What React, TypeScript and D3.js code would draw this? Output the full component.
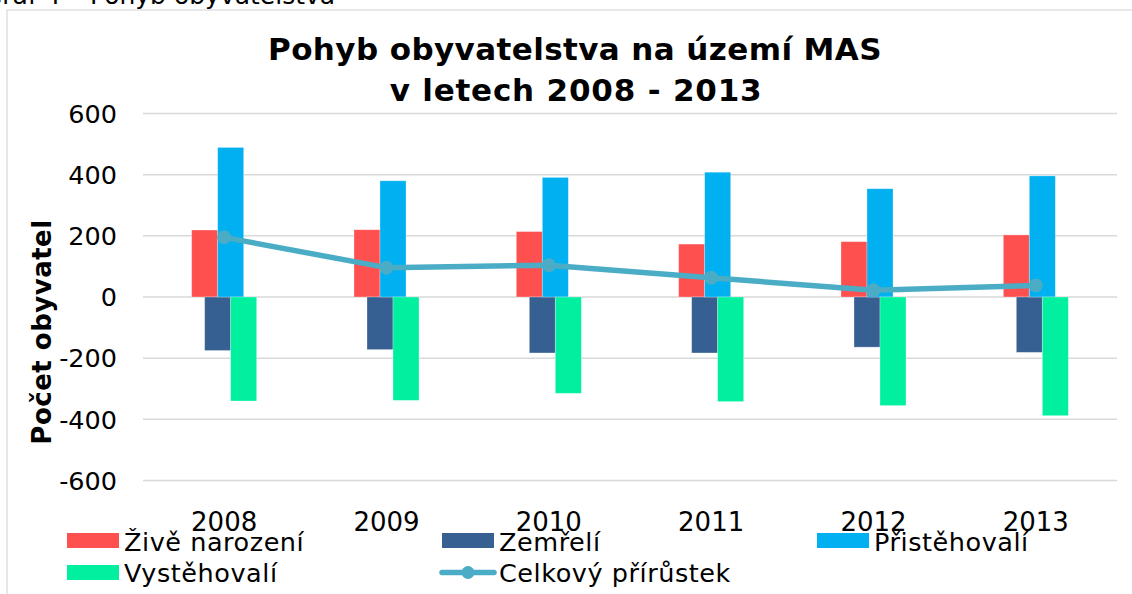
import React from "react";
import * as d3 from "d3";

const years = ["2008", "2009", "2010", "2011", "2012", "2013"];
const zivenarozeni = [219, 220, 214, 173, 181, 203];
const zemreli = [-175, -172, -183, -183, -164, -181];
const pristehovali = [489, 380, 391, 408, 354, 396];
const vystehovali = [-340, -338, -315, -342, -355, -388];
const prirustek = [195, 96, 104, 63, 22, 38];
const yTicks = [600, 400, 200, 0, -200, -400, -600];

const barSeries = [
  { name: "Živě narození", values: zivenarozeni, color: "#ff5050", slot: 0 },
  { name: "Zemřelí", values: zemreli, color: "#376092", slot: 1 },
  { name: "Přistěhovalí", values: pristehovali, color: "#00b0f0", slot: 2 },
  { name: "Vystěhovalí", values: vystehovali, color: "#00f0a0", slot: 3 },
];
const lineName = "Celkový přírůstek";
const lineColor = "#4bacc6";

const FONT = "'DejaVu Sans', Verdana, sans-serif";

export default function App() {
  const x = d3.scaleBand<string>().domain(years).range([143, 1117]).paddingInner(0).paddingOuter(0);
  const y = d3.scaleLinear().domain([-600, 600]).range([480.5, 113.5]);
  const bw = 26;
  const step = 13;
  const center = (yr: string) => (x(yr) as number) + x.bandwidth() / 2;
  const line = d3
    .line<number>()
    .x((_, i) => center(years[i]))
    .y((d) => y(d));

  const legendItems = [
    { label: barSeries[0].name, color: barSeries[0].color, lx: 67, row: 0, type: "bar" },
    { label: barSeries[1].name, color: barSeries[1].color, lx: 442, row: 0, type: "bar" },
    { label: barSeries[2].name, color: barSeries[2].color, lx: 817, row: 0, type: "bar" },
    { label: barSeries[3].name, color: barSeries[3].color, lx: 67, row: 1, type: "bar" },
    { label: lineName, color: lineColor, lx: 442, row: 1, type: "line" },
  ];

  return (
    <svg
      width={1132}
      height={594}
      style={{ position: "absolute", left: 0, top: 0, background: "#fff" }}
      fontFamily={FONT}
    >
      {/* caption clipped at the top */}
      <text x={81} y={4} fontSize={25} textAnchor="end" fill="#000">
        Graf 4 –
      </text>
      <text x={90} y={4} fontSize={25} fill="#000">
        Pohyb obyvatelstva
      </text>
      {/* chart frame */}
      <rect x={7} y={10} width={1140} height={600} fill="#fff" stroke="#d9d9d9" strokeWidth={1.2} />

      {/* title */}
      <text x={575} y={60} fontSize={31} fontWeight="bold" letterSpacing={0.4} textAnchor="middle" fill="#000">
        Pohyb obyvatelstva na území MAS
      </text>
      <text x={576} y={101} fontSize={31} fontWeight="bold" letterSpacing={0.8} textAnchor="middle" fill="#000">
        v letech 2008 - 2013
      </text>

      {/* grid + y ticks */}
      {yTicks.map((t) => (
        <g key={t}>
          <line x1={143} x2={1117} y1={y(t)} y2={y(t)} stroke="#d9d9d9" strokeWidth={1.5} />
          <text x={117} y={y(t)} dy="0.36em" fontSize={25.5} textAnchor="end" fill="#000">
            {t}
          </text>
        </g>
      ))}

      {/* y axis title */}
      <text
        transform={`translate(51,332) rotate(-90)`}
        fontSize={26}
        fontWeight="bold"
        letterSpacing={0.5}
        textAnchor="middle"
        fill="#000"
      >
        Počet obyvatel
      </text>

      {/* bars */}
      {barSeries.map((s) =>
        s.values.map((v, i) => {
          const c = center(years[i]);
          const bx = c - 32.5 + s.slot * step;
          const y0 = y(0);
          const yv = y(v);
          return (
            <rect
              key={s.name + i}
              x={bx}
              y={Math.min(y0, yv)}
              width={bw}
              height={Math.abs(yv - y0)}
              fill={s.color}
              stroke="#fff"
              strokeOpacity={0.35}
              strokeWidth={0.8}
            />
          );
        })
      )}

      {/* line */}
      <path d={line(prirustek) || ""} fill="none" stroke={lineColor} strokeWidth={5.5} strokeLinejoin="round" />
      {prirustek.map((v, i) => (
        <circle key={i} cx={center(years[i])} cy={y(v)} r={7} fill={lineColor} />
      ))}

      {/* x labels */}
      {years.map((yr) => (
        <text key={yr} x={center(yr)} y={531} fontSize={26} textAnchor="middle" fill="#000">
          {yr}
        </text>
      ))}

      {/* legend */}
      {legendItems.map((it) => {
        const top = it.row === 0 ? 533 : 565;
        const base = it.row === 0 ? 550.5 : 582;
        return (
          <g key={it.label}>
            {it.type === "bar" ? (
              <rect x={it.lx} y={top} width={52} height={15} fill={it.color} />
            ) : (
              <g>
                <line x1={it.lx} x2={it.lx + 52} y1={top + 7.5} y2={top + 7.5} stroke={it.color} strokeWidth={5.5} strokeLinecap="round" />
                <circle cx={it.lx + 26} cy={top + 7.5} r={6.5} fill={it.color} />
              </g>
            )}
            <text x={it.lx + 57} y={base} fontSize={25.5} letterSpacing={0.55} fill="#000">
              {it.label}
            </text>
          </g>
        );
      })}
    </svg>
  );
}
